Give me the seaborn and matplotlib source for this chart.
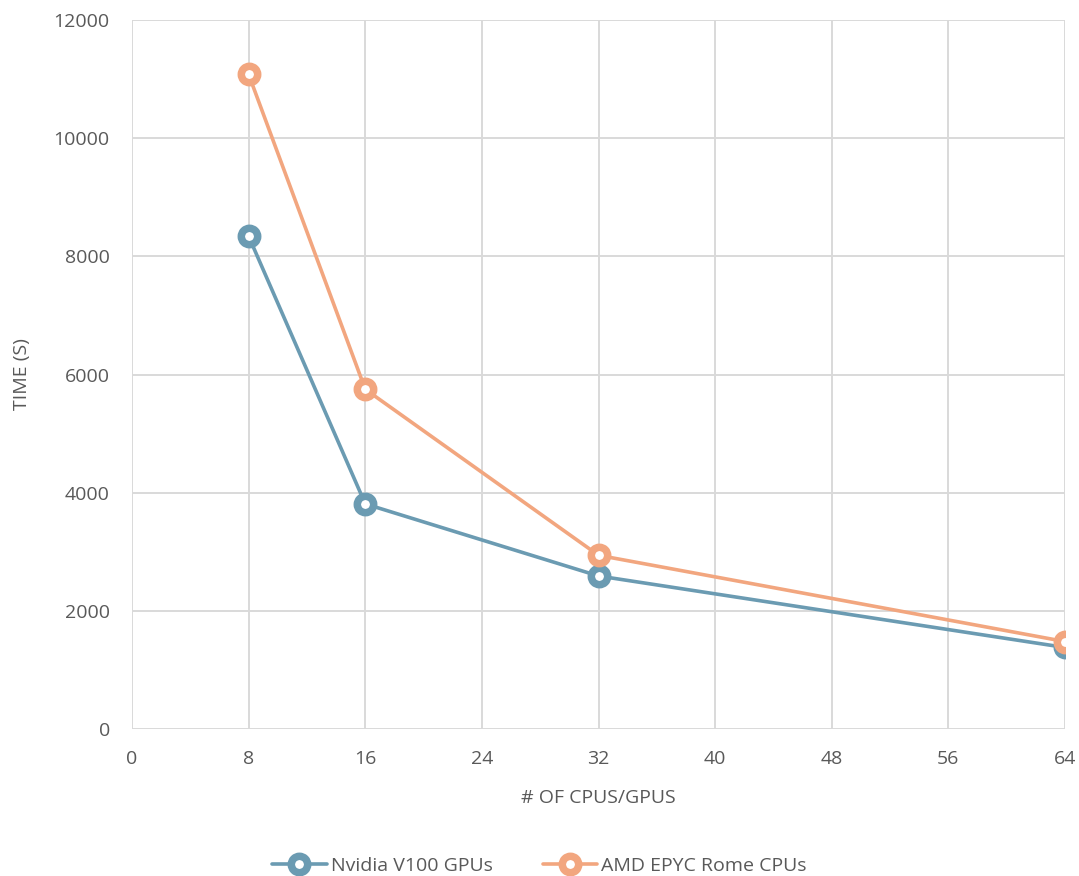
import matplotlib
matplotlib.use("Agg")
import matplotlib.pyplot as plt
import seaborn as sns
import pandas as pd
from matplotlib.lines import Line2D

x_vals = [8, 16, 32, 64]
gpu_time = [8340, 3810, 2590, 1380]
cpu_time = [11080, 5750, 2940, 1480]
series_names = ["Nvidia V100 GPUs", "AMD EPYC Rome CPUs"]
colors = ["#6B9BB2", "#F2A67F"]
x_ticks = [0, 8, 16, 24, 32, 40, 48, 56, 64]
y_ticks = [0, 2000, 4000, 6000, 8000, 10000, 12000]

df = pd.concat([
    pd.DataFrame({"x": x_vals, "y": gpu_time, "series": series_names[0]}),
    pd.DataFrame({"x": x_vals, "y": cpu_time, "series": series_names[1]}),
])

sns.set_style("white")
plt.rcParams["font.family"] = ["Open Sans", "DejaVu Sans"]

fig = plt.figure(figsize=(10.79, 8.76), dpi=100)
ax = fig.add_axes([132/1079, 1-729/876, (1065-132)/1079, (729-20)/876])

sns.lineplot(data=df, x="x", y="y", hue="series", palette=colors, ax=ax,
             marker="o", markersize=11.8, markeredgewidth=5.4,
             markerfacecolor="white", linewidth=2.6, legend=False)
for line, c in zip(ax.get_lines(), colors):
    line.set_markeredgecolor(c)
    line.set_markerfacecolor("white")

ax.set_xlim(0, 64)
ax.set_ylim(0, 12000)
ax.set_xticks(x_ticks)
ax.set_yticks(y_ticks)
ax.grid(True, color="#d9d9d9", linewidth=1.4)
ax.set_axisbelow(True)
for s in ax.spines.values():
    s.set_visible(False)
ax.tick_params(axis="both", length=0, labelsize=14, colors="#595959")
ax.tick_params(axis="x", pad=15)
ax.tick_params(axis="y", pad=16)
ax.set_xlabel("# OF CPUS/GPUS", fontsize=14, color="#595959", labelpad=15)
ax.set_ylabel("TIME (S)", fontsize=14, color="#595959", labelpad=16)

handles = [Line2D([], [], color=c, linewidth=2.6, marker="o", markersize=11.8,
                  markeredgewidth=5.4, markerfacecolor="white", markeredgecolor=c)
           for c in colors]
fig.legend(handles, series_names, loc="center", bbox_to_anchor=(0.5, 10/876),
           ncol=2, frameon=False, fontsize=14, labelcolor="#595959",
           handlelength=2.8, columnspacing=2.6, handletextpad=0.2)

fig.savefig("out.png", dpi=100)
